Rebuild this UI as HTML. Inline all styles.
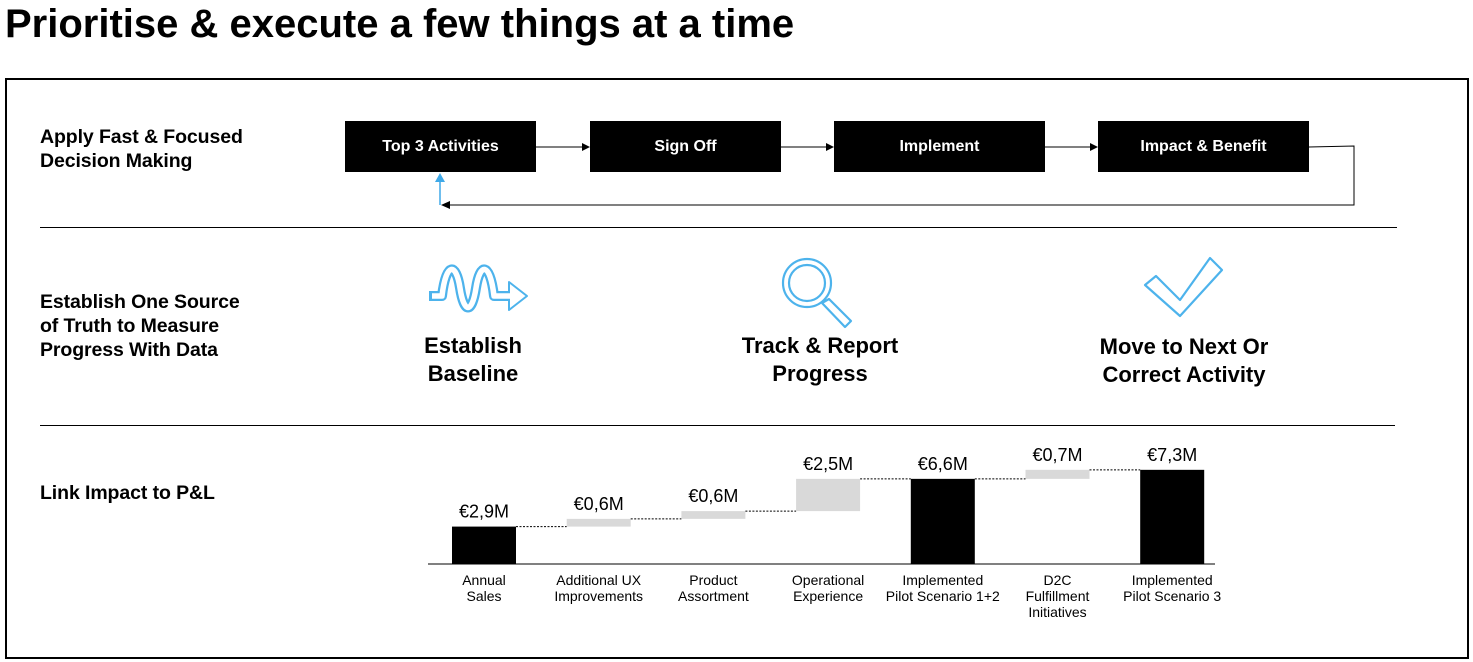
<!DOCTYPE html>
<html><head><meta charset="utf-8"><style>
body{margin:0;width:1473px;height:662px;background:#fff;font-family:"Liberation Sans",sans-serif;position:relative;overflow:hidden}
.a{position:absolute}
.lbl{position:absolute;left:40px;font-weight:bold;font-size:19.5px;line-height:24px;color:#000;letter-spacing:-0.1px}
.box{position:absolute;top:121px;height:51px;background:#000;color:#fff;font-weight:bold;font-size:16px;display:flex;align-items:center;justify-content:center}
.hd{position:absolute;font-weight:bold;font-size:22px;line-height:28px;text-align:center;width:260px}
</style></head><body>
<div class="a" style="left:5px;top:1px;font-size:40px;font-weight:bold;line-height:46px;letter-spacing:0px">Prioritise &amp; execute a few things at a time</div>
<div class="a" style="left:5px;top:78px;width:1460px;height:577px;border:2px solid #000"></div>
<div class="a" style="left:40px;top:227px;width:1357px;height:1px;background:#000"></div>
<div class="a" style="left:40px;top:425px;width:1355px;height:1px;background:#000"></div>

<div class="lbl" style="top:125px">Apply Fast &amp; Focused<br>Decision Making</div>
<div class="lbl" style="top:290px">Establish One Source<br>of Truth to Measure<br>Progress With Data</div>
<div class="lbl" style="top:481px">Link Impact to P&amp;L</div>

<div class="box" style="left:345px;width:191px">Top 3 Activities</div>
<div class="box" style="left:590px;width:191px">Sign Off</div>
<div class="box" style="left:834px;width:211px">Implement</div>
<div class="box" style="left:1098px;width:211px">Impact &amp; Benefit</div>

<svg class="a" style="left:0;top:0" width="1473" height="662">
<g stroke="#000" stroke-width="1" fill="none">
<line x1="536" y1="147" x2="584" y2="147"/><line x1="781" y1="147" x2="828" y2="147"/><line x1="1045" y1="147" x2="1092" y2="147"/>
<polyline points="1309,147 1354,146 1354,205 448,205"/>
</g>
<g fill="#000"><polygon points="590,147 582,143 582,151"/><polygon points="834,147 826,143 826,151"/><polygon points="1098,147 1090,143 1090,151"/><polygon points="441,205 450,201 450,209"/></g>
<line x1="440" y1="205" x2="440" y2="180" stroke="#3fa9e8" stroke-width="1.5"/>
<polygon points="440,173 435,182 445,182" fill="#3fa9e8"/>
<g fill="none" stroke-linejoin="round" stroke-linecap="butt">
<path d="M430,296 L442,296 C446,262 456,262 460,288 C464,314 472,314 476,288 C480,262 490,262 494,296 L510,296" stroke="#4db3ec" stroke-width="10"/>
<path d="M432,296 L442,296 C446,262 456,262 460,288 C464,314 472,314 476,288 C480,262 490,262 494,296 L512,296" stroke="#fff" stroke-width="5.5"/>
<path d="M430,291 L430,301" stroke="#4db3ec" stroke-width="2"/>
<path d="M509,291 L509,282 L527,296 L509,310 L509,301" stroke="#4db3ec" stroke-width="2"/>
</g>
<g stroke="#4db3ec" stroke-width="2.2" fill="none" stroke-linejoin="round">
<circle cx="807" cy="283" r="24"/><circle cx="807" cy="283" r="18"/>
<path d="M822,303 L829,299 L851,321 L845,327 Z"/>
<path d="M1145,285 L1156,276 L1180,300 L1210,258 L1222,270 L1180,316 Z"/>
</g>
</svg>

<div class="hd" style="left:343px;top:332px">Establish<br>Baseline</div>
<div class="hd" style="left:690px;top:332px">Track &amp; Report<br>Progress</div>
<div class="hd" style="left:1034px;top:333px;width:300px">Move to Next Or<br>Correct Activity</div>

<svg id="chart" class="a" style="left:0;top:0" width="1473" height="662"></svg>
<script>
const categories=["Annual|Sales","Additional UX|Improvements","Product|Assortment","Operational|Experience","Implemented|Pilot Scenario 1+2","D2C|Fulfillment|Initiatives","Implemented|Pilot Scenario 3"];
const values=[2.9,0.6,0.6,2.5,6.6,0.7,7.3];
const valueLabels=["€2,9M","€0,6M","€0,6M","€2,5M","€6,6M","€0,7M","€7,3M"];
const isTotal=[true,false,false,false,true,false,true];
const svg=document.getElementById('chart');const NS='http://www.w3.org/2000/svg';
const base=564,scale=12.9,x0=452,step=114.7,bw=64;
const y=v=>base-v*scale;const x=i=>x0+i*step;
function mk(t,a){const e=document.createElementNS(NS,t);for(const k in a)e.setAttribute(k,a[k]);svg.appendChild(e);return e;}
const ax=mk('line',{x1:428,y1:base,x2:1215,y2:base,stroke:'#000','stroke-width':1});


let cum=0,prevTop=null;
values.forEach((v,i)=>{
 let lo,hi;
 if(isTotal[i]){lo=0;hi=v;cum=v;}else{lo=cum;hi=cum+v;cum=hi;}
 if(prevTop!==null){const c=mk('line',{x1:x(i-1)+bw,y1:y(prevTop),x2:x(i),y2:y(prevTop),stroke:'#000','stroke-width':1,'stroke-dasharray':'2,1.5'});
 
 }
 const r=mk('rect',{x:x(i),y:y(hi),width:bw,height:(hi-lo)*scale,fill:isTotal[i]?'#000':'#d9d9d9'});
 
 
 const t=mk('text',{x:x(i)+bw/2,y:y(hi)-9,'text-anchor':'middle','font-size':18,'font-family':'Liberation Sans, sans-serif'});t.textContent=valueLabels[i];
 
 
 categories[i].split('|').forEach((ln,j)=>{const c=mk('text',{x:x(i)+bw/2,y:585+j*16,'text-anchor':'middle','font-size':14,'font-family':'Liberation Sans, sans-serif'});c.textContent=ln;
 
 });
 prevTop=hi;
});
</script>
</body></html>
